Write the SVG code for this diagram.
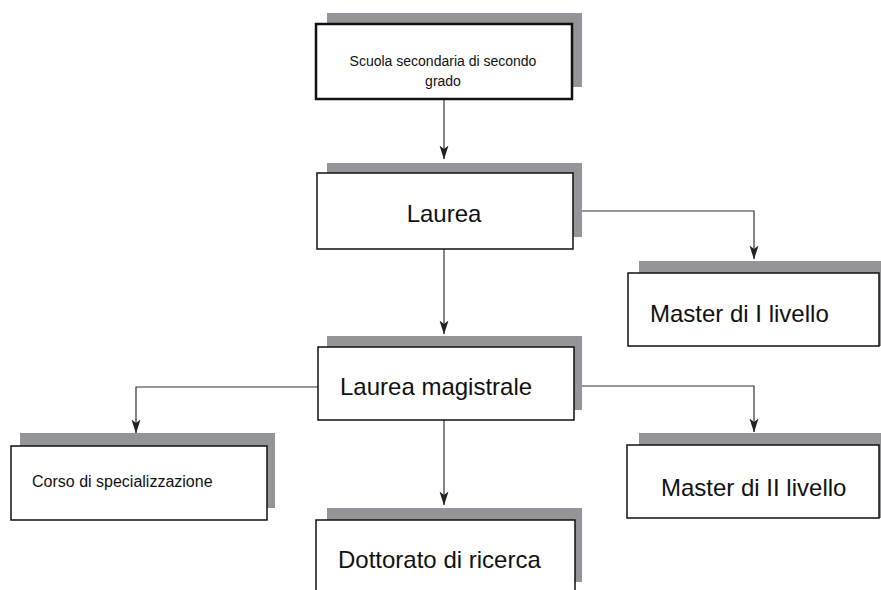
<svg xmlns="http://www.w3.org/2000/svg" width="881" height="590" viewBox="0 0 881 590">
<style>
.sh{fill:#939598;}
.bx{fill:#fff;stroke:#111;stroke-width:1.5;}
.big{font-family:"Liberation Sans",Arial,sans-serif;font-size:24px;fill:#111;}
.sm{font-family:"Liberation Sans",Arial,sans-serif;font-size:16px;fill:#111;}
.xs{font-family:"Liberation Sans",Arial,sans-serif;font-size:14px;fill:#111;}
.ln{fill:none;stroke:#333;stroke-width:1.2;}
</style>
<defs>
<marker id="ah" markerWidth="14" markerHeight="10" refX="13.5" refY="5" orient="auto" markerUnits="userSpaceOnUse" viewBox="0 0 14 10">
<path d="M0,0.5 L3.5,5 L0,9.5 L14,5 Z" fill="#222"/>
</marker>
</defs>
<rect width="881" height="590" fill="#fff"/>
<g id="connectors">
<path class="ln" d="M444,100 V159" marker-end="url(#ah)"/>
<path class="ln" d="M573,211 H754 V259" marker-end="url(#ah)"/>
<path class="ln" d="M444,249 V334" marker-end="url(#ah)"/>
<path class="ln" d="M318,387 H136 V433" marker-end="url(#ah)"/>
<path class="ln" d="M574,386 H754 V432" marker-end="url(#ah)"/>
<path class="ln" d="M444,420 V505" marker-end="url(#ah)"/>
</g>
<g id="n-scuola">
<rect class="sh" x="327" y="13" width="255" height="74"/>
<rect class="bx" x="316" y="24" width="256" height="75" style="stroke-width:2.5"/>
<text class="xs" x="443" y="66" text-anchor="middle">Scuola secondaria di secondo</text>
<text class="xs" x="443" y="86" text-anchor="middle">grado</text>
</g>
<g id="n-laurea">
<rect class="sh" x="327" y="163" width="255" height="74"/>
<rect class="bx" x="317" y="173" width="256" height="76"/>
<text class="big" x="444" y="222" text-anchor="middle">Laurea</text>
</g>
<g id="n-master1">
<rect class="sh" x="639" y="261" width="250" height="85"/>
<rect class="bx" x="628" y="273" width="251" height="73"/>
<text class="big" x="650" y="322">Master di I livello</text>
</g>
<g id="n-magistrale">
<rect class="sh" x="327" y="336" width="255" height="74"/>
<rect class="bx" x="318" y="347" width="256" height="73"/>
<text class="big" x="340" y="395">Laurea magistrale</text>
</g>
<g id="n-corso">
<rect class="sh" x="20" y="433" width="255" height="75"/>
<rect class="bx" x="11" y="446" width="256" height="74"/>
<text class="sm" x="32" y="487">Corso di specializzazione</text>
</g>
<g id="n-master2">
<rect class="sh" x="639" y="433" width="250" height="85"/>
<rect class="bx" x="627" y="445" width="252" height="73"/>
<text class="big" x="661" y="496">Master di II livello</text>
</g>
<g id="n-dottorato">
<rect class="sh" x="327" y="508" width="255" height="74"/>
<rect class="bx" x="316" y="520" width="259" height="80"/>
<text class="big" x="338" y="568">Dottorato di ricerca</text>
</g>
</svg>
